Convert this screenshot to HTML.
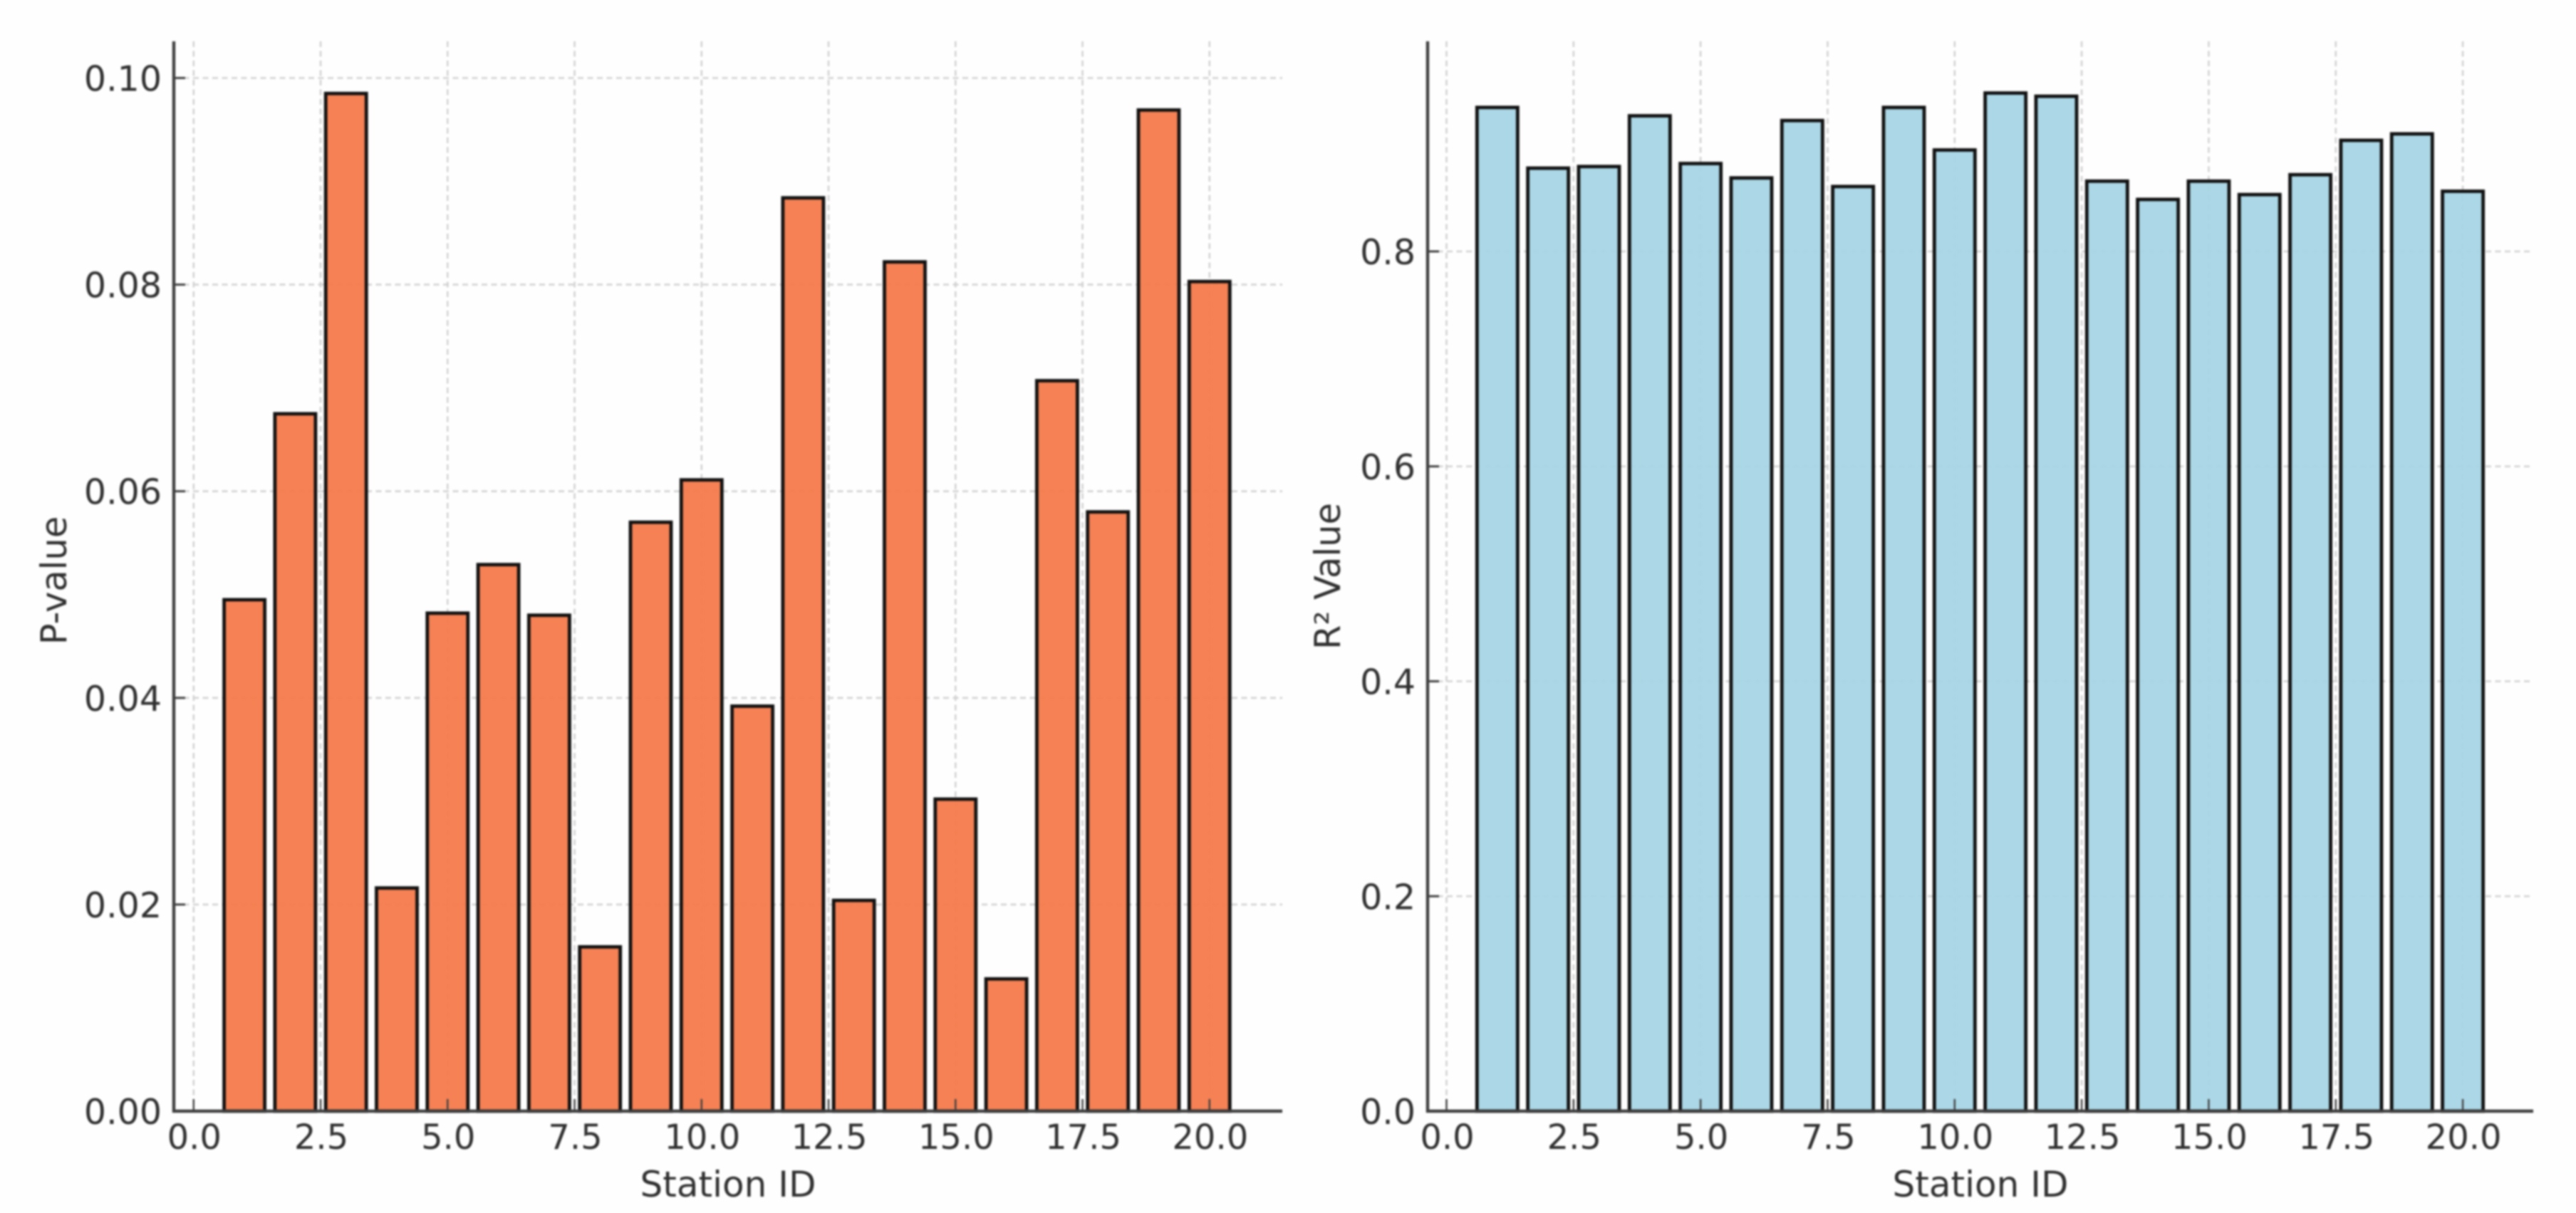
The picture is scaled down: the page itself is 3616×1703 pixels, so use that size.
<!DOCTYPE html>
<html lang="en">
<head>
<meta charset="utf-8">
<title>Station P-values and R² values</title>
<style>
  html, body { margin: 0; padding: 0; width: 3616px; height: 1703px; background: #fefefe; overflow: hidden; }
  svg { display: block; filter: blur(1.2px); }
  text { font-family: "DejaVu Sans", "Liberation Sans", sans-serif; fill: #303030; }
</style>
</head>
<body>
<svg id="chart" xmlns="http://www.w3.org/2000/svg" width="3616" height="1703" viewBox="0 0 3616 1703"></svg>
<script>
// ---- data ----
const stationIds = [1,2,3,4,5,6,7,8,9,10,11,12,13,14,15,16,17,18,19,20];
const pValues = [0.0495,0.0675,0.0985,0.0216,0.0482,0.0529,0.0480,0.0159,0.0570,0.0611,0.0392,0.0884,0.0204,0.0822,0.0302,0.0128,0.0707,0.0580,0.0969,0.0803];
const r2Values = [0.9340,0.8775,0.8790,0.9262,0.8818,0.8684,0.9218,0.8604,0.9340,0.8944,0.9474,0.9444,0.8654,0.8484,0.8654,0.8529,0.8714,0.9034,0.9094,0.8560];
const xTicks = [0,2.5,5,7.5,10,12.5,15,17.5,20];
const xTickLabels = ["0.0","2.5","5.0","7.5","10.0","12.5","15.0","17.5","20.0"];
const pTicks = [0,0.02,0.04,0.06,0.08,0.10];
const pTickLabels = ["0.00","0.02","0.04","0.06","0.08","0.10"];
const r2Ticks = [0,0.2,0.4,0.6,0.8];
const r2TickLabels = ["0.0","0.2","0.4","0.6","0.8"];

// ---- layout ----
const barWidth = 0.8;
const axisTop = 58, axisBottom = 1560;
const svg = document.getElementById('chart');
const NS = 'http://www.w3.org/2000/svg';

function make(tag, attrs, parent) {
  const el = document.createElementNS(NS, tag);
  for (const k in attrs) el.setAttribute(k, attrs[k]);
  parent.appendChild(el);
  return el;
}

function drawPanel(cfg) {
  const x = v => cfg.x0 + v * cfg.xUnit;
  const y = v => axisBottom - v * cfg.yUnit;

  const group = make('g', {}, svg);
  
  

  // gridlines
  cfg.xTicks.forEach((t, i) => {
    const line = make('line', { x1: x(t), x2: x(t), y1: axisTop, y2: axisBottom, stroke: '#d2d2d2', 'stroke-width': 2.6, 'stroke-dasharray': '8 5.5' }, group);
    
    
  });
  cfg.yTicks.forEach((t, i) => {
    const line = make('line', { x1: cfg.left, x2: cfg.right, y1: y(t), y2: y(t), stroke: '#d2d2d2', 'stroke-width': 2.6, 'stroke-dasharray': '8 5.5' }, group);
    
    
  });

  // bars
  cfg.ids.forEach((id, i) => {
    const top = y(cfg.values[i]);
    const bar = make('rect', {
      x: x(id - barWidth / 2), y: top,
      width: barWidth * cfg.xUnit, height: axisBottom - top,
      fill: cfg.color, 'fill-opacity': 0.95,
      stroke: '#111111', 'stroke-width': 4.8
    }, group);
    
    
  });

  // ticks and tick labels
  cfg.xTicks.forEach((t, i) => {
    const tick = make('line', { x1: x(t), x2: x(t), y1: axisBottom, y2: axisBottom - 17, stroke: '#404040', 'stroke-width': 2.4 }, group);
    
    
    const label = make('text', { x: x(t) + 1, y: 1613, 'text-anchor': 'middle', 'font-size': 48 }, group);
    label.textContent = cfg.xLabels[i];
    
    
  });
  cfg.yTicks.forEach((t, i) => {
    const tick = make('line', { x1: cfg.left, x2: cfg.left + 16, y1: y(t), y2: y(t), stroke: '#404040', 'stroke-width': 3 }, group);
    
    
    const label = make('text', { x: cfg.left - 17, y: y(t) + 18, 'text-anchor': 'end', 'font-size': 49 }, group);
    label.textContent = cfg.yLabels[i];
    
    
  });

  // spines
  const leftSpine = make('line', { x1: cfg.left, x2: cfg.left, y1: axisTop, y2: axisBottom + 2, stroke: '#3f3f3f', 'stroke-width': 4.4 }, group);
  
  
  const bottomSpine = make('line', { x1: cfg.left - 2, x2: cfg.right, y1: axisBottom, y2: axisBottom, stroke: '#3f3f3f', 'stroke-width': 4.4 }, group);
  
  

  // axis titles
  const xTitle = make('text', { x: (cfg.left + cfg.right) / 2, y: 1680, 'text-anchor': 'middle', 'font-size': 50 }, group);
  xTitle.textContent = cfg.xTitle;
  
  
  const yTitle = make('text', {
    x: cfg.yTitleX, y: cfg.yTitleY, 'text-anchor': 'middle', 'font-size': 49.5,
    transform: 'rotate(-90 ' + cfg.yTitleX + ' ' + cfg.yTitleY + ')'
  }, group);
  yTitle.textContent = cfg.yTitle;
  
  
}

drawPanel({
  name: 'p-value', ids: stationIds, values: pValues, color: '#f47a4b',
  xTicks: xTicks, xLabels: xTickLabels, yTicks: pTicks, yLabels: pTickLabels,
  left: 244, right: 1800, x0: 271.8, xUnit: 71.3, yUnit: 14505,
  xTitle: 'Station ID', yTitle: 'P-value', yTitleX: 93, yTitleY: 815
});
drawPanel({
  name: 'r-squared', ids: stationIds, values: r2Values, color: '#a7d5e5',
  xTicks: xTicks, xLabels: xTickLabels, yTicks: r2Ticks, yLabels: r2TickLabels,
  left: 2004, right: 3556, x0: 2030.5, xUnit: 71.33, yUnit: 1508.75,
  xTitle: 'Station ID', yTitle: 'R² Value', yTitleX: 1881, yTitleY: 809
});
</script>
</body>
</html>
